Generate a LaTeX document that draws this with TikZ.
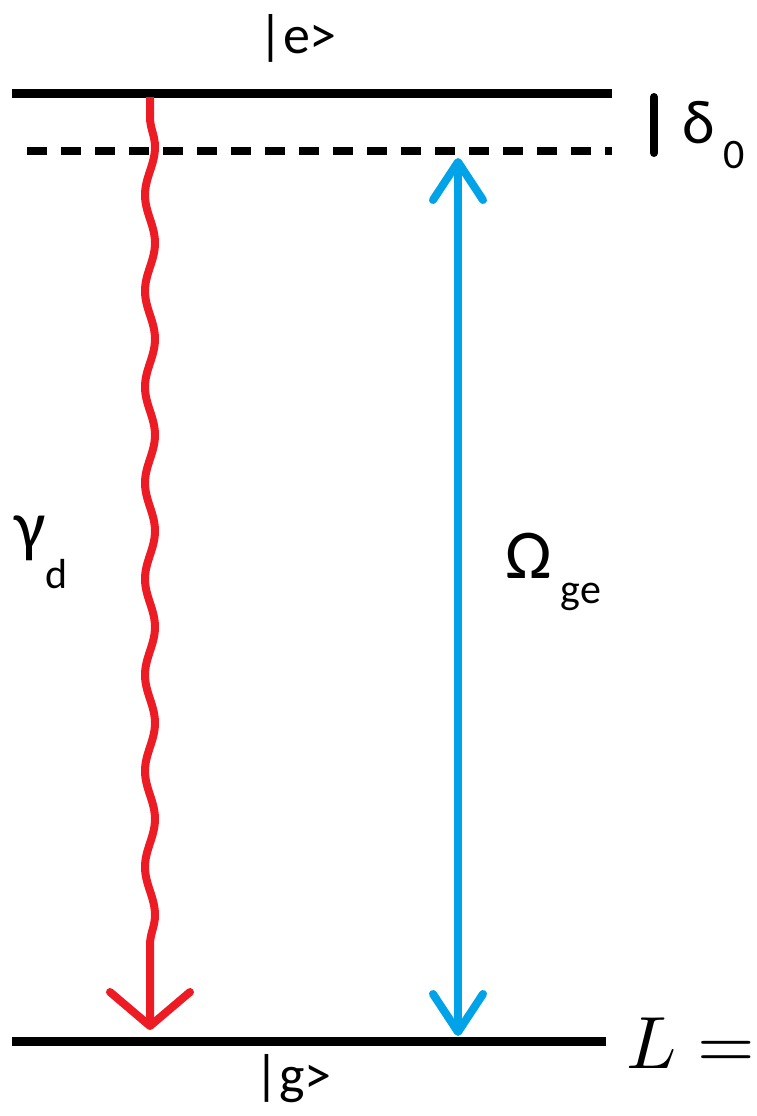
\documentclass[tikz,border=0pt]{standalone}
\usepackage[no-math]{fontspec}
\setmainfont{Carlito}
\usetikzlibrary{arrows.meta,decorations.pathmorphing}
\newcommand{\lowsub}[2]{\raisebox{-#1}{\fontsize{42}{42}\selectfont #2}}

\begin{document}
\begin{tikzpicture}[x=1pt,y=-1pt,
  stateline/.style={line width=9pt},
  virtualline/.style={line width=8pt,dash pattern=on 20pt off 14pt},
  decay/.style={draw={rgb,255:red,237;green,28;blue,36},line width=8pt,
    decorate,decoration={snake,amplitude=5pt,segment length=96pt,
      pre length=20pt,post length=45pt},
    -{Straight Barb[length=34pt,width=80pt,round]}},
  drive/.style={draw={rgb,255:red,0;green,162;blue,232},line width=8pt,
    {Straight Barb[length=38pt,width=50pt,round]}-{Straight Barb[length=38pt,width=50pt,round]}},
  every node/.style={inner sep=0pt,anchor=base west}]
\path[use as bounding box,clip] (0,0) rectangle (756,1116);
% energy levels
\coordinate (eL) at (12,93);   \coordinate (eR) at (612,93);
\coordinate (dL) at (27,151);  \coordinate (dR) at (612,151);
\coordinate (gL) at (12,1041); \coordinate (gR) at (606,1041);
\draw[stateline] (eL) -- (eR);
\draw[virtualline] (dL) -- (dR);
\draw[stateline] (gL) -- (gR);
% detuning marker
\coordinate (detTop) at (654,97);
\coordinate (detBot) at (654,153);
\draw[line width=8pt,line cap=round] (detTop) -- (detBot);
% transitions
\coordinate (decayTop) at (150,97);
\coordinate (decayEnd) at (150,1030);
\coordinate (driveTop) at (458,158);
\coordinate (driveEnd) at (458,1036);
\draw[decay] (decayTop) -- (decayEnd);   % spontaneous decay
\draw[drive] (driveTop) -- (driveEnd);   % coupling field
% labels
\node[font=\fontsize{54}{54}\selectfont] (eLabel) at (258,53) {|e>};
\node[font=\fontsize{54}{54}\selectfont] (gLabel) at (254,1093) {|g>};
\node[font=\fontsize{62}{62}\selectfont] (deltaLabel) at (682,143) {δ\hspace{9pt}\lowsub{25pt}{0}};
\node[font=\fontsize{70}{70}\selectfont] (gammaLabel) at (14,549) {γ\lowsub{39pt}{d}};
\node[font=\fontsize{70}{70}\selectfont] (omegaLabel) at (505,578) {Ω\hspace{9pt}\lowsub{25pt}{ge}};
\node (lagrLabel) at (626,1068) {\scalebox{7.4}{$L =$}};
\end{tikzpicture}
\end{document}
